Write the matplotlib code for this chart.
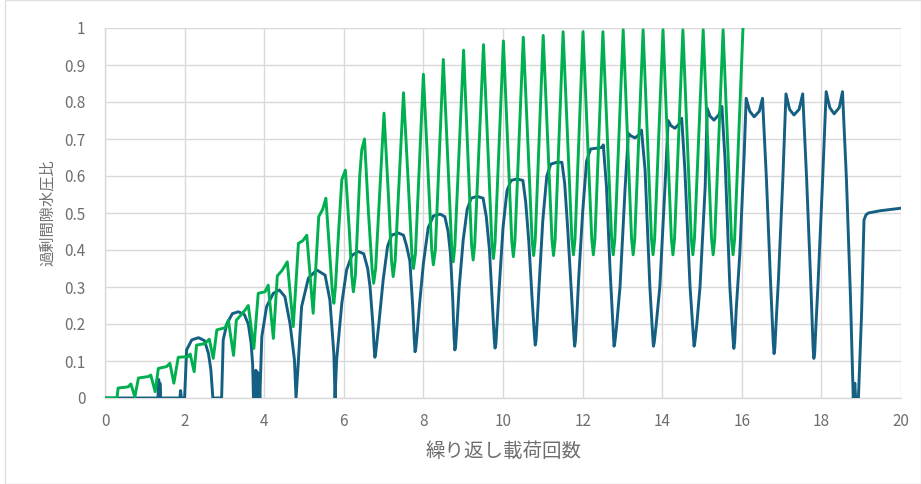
import matplotlib
matplotlib.use("Agg")
import matplotlib.pyplot as plt
from matplotlib.patches import Rectangle

# ---- data ----
blue_x = [0, 1.33, 1.35, 1.37, 1.38, 1.40, 1.88, 1.90, 1.92, 2.0, 2.05, 2.18, 2.35, 2.5, 2.6, 2.66, 2.71,
          2.93, 2.97, 3.06, 3.2, 3.35, 3.5, 3.6, 3.67, 3.71, 3.73, 3.75, 3.77, 3.79, 3.81, 3.83, 3.85, 3.87, 3.89,
          3.94, 4.06, 4.23, 4.38, 4.52, 4.65, 4.76, 4.8,
          4.86, 4.94, 5.11, 5.32, 5.53, 5.65, 5.75, 5.78,
          5.82, 5.95, 6.07, 6.2, 6.36, 6.5, 6.6, 6.66, 6.73, 6.76, 6.78, 6.80,
          6.83, 6.88, 6.99, 7.1, 7.2, 7.37, 7.5, 7.58, 7.66, 7.73, 7.77, 7.79, 7.81,
          7.84, 7.9, 8.0, 8.12, 8.25, 8.42, 8.54, 8.62, 8.68, 8.74, 8.77, 8.79, 8.81,
          8.84, 8.9, 9.0, 9.1, 9.2, 9.35, 9.5, 9.58, 9.66, 9.73, 9.78, 9.8, 9.82,
          9.85, 9.9, 10.0, 10.1, 10.2, 10.35, 10.5, 10.57, 10.65, 10.73, 10.79, 10.81, 10.83,
          10.86, 10.91, 11.0, 11.1, 11.2, 11.35, 11.48, 11.55, 11.63, 11.72, 11.78, 11.8, 11.82,
          11.85, 11.9, 12.0, 12.1, 12.2, 12.35, 12.48, 12.52, 12.6, 12.69, 12.77, 12.79, 12.81,
          12.85, 12.94, 13.07, 13.15, 13.22, 13.32, 13.42, 13.48, 13.57, 13.69, 13.76, 13.78, 13.80,
          13.85, 13.94, 14.07, 14.15, 14.22, 14.32, 14.42, 14.49, 14.57, 14.7, 14.78, 14.8, 14.82,
          14.87, 14.95, 15.08, 15.13, 15.2, 15.3, 15.42, 15.5, 15.58, 15.7, 15.78, 15.8, 15.82,
          15.86, 15.95, 16.06, 16.11, 16.2, 16.31, 16.44, 16.52, 16.62, 16.72, 16.79, 16.81, 16.83,
          16.86, 16.92, 17.03, 17.11, 17.2, 17.31, 17.44, 17.53, 17.63, 17.73, 17.79, 17.81, 17.83,
          17.86, 17.92, 18.03, 18.12, 18.21, 18.32, 18.45, 18.53, 18.63, 18.73, 18.8, 18.84, 18.86, 18.93,
          19.01, 19.07, 19.12, 19.18, 19.47, 20.0]
blue_y = [0, 0, 0.05, 0, 0.04, 0, 0, 0.02, 0, 0, 0.13, 0.157, 0.163, 0.155, 0.12, 0.076, 0,
          0, 0.157, 0.2, 0.228, 0.233, 0.226, 0.2, 0.15, 0.09, 0, 0.07, 0, 0.075, 0, 0.07, 0, 0.065, 0,
          0.166, 0.247, 0.283, 0.292, 0.274, 0.2, 0.103, 0,
          0.103, 0.247, 0.324, 0.346, 0.332, 0.265, 0.12, 0,
          0.103, 0.256, 0.346, 0.385, 0.396, 0.39, 0.35, 0.3, 0.2, 0.14, 0.11, 0.12,
          0.15, 0.2, 0.32, 0.41, 0.44, 0.446, 0.44, 0.41, 0.37, 0.25, 0.16, 0.125, 0.135,
          0.17, 0.25, 0.364, 0.46, 0.492, 0.497, 0.49, 0.45, 0.39, 0.26, 0.165, 0.13, 0.14,
          0.19, 0.3, 0.427, 0.51, 0.54, 0.545, 0.54, 0.49, 0.4, 0.26, 0.16, 0.135, 0.145,
          0.2, 0.29, 0.46, 0.56, 0.588, 0.592, 0.588, 0.53, 0.42, 0.27, 0.17, 0.143, 0.155,
          0.21, 0.31, 0.48, 0.6, 0.632, 0.637, 0.637, 0.58, 0.45, 0.28, 0.17, 0.14, 0.155,
          0.21, 0.32, 0.5, 0.64, 0.673, 0.675, 0.677, 0.684, 0.571, 0.346, 0.18, 0.14, 0.15,
          0.19, 0.3, 0.571, 0.715, 0.708, 0.703, 0.712, 0.724, 0.616, 0.3, 0.17, 0.14, 0.15,
          0.2, 0.3, 0.571, 0.75, 0.736, 0.729, 0.74, 0.756, 0.616, 0.3, 0.17, 0.14, 0.15,
          0.2, 0.3, 0.571, 0.783, 0.762, 0.751, 0.765, 0.788, 0.643, 0.3, 0.16, 0.134, 0.15,
          0.24, 0.39, 0.66, 0.81, 0.775, 0.76, 0.775, 0.81, 0.589, 0.319, 0.15, 0.12, 0.135,
          0.2, 0.319, 0.589, 0.822, 0.78, 0.765, 0.78, 0.822, 0.589, 0.319, 0.14, 0.107, 0.12,
          0.19, 0.319, 0.589, 0.828, 0.785, 0.768, 0.785, 0.828, 0.589, 0.274, 0, 0.04, 0, 0,
          0.229, 0.481, 0.495, 0.5, 0.506, 0.513]

green_x = [0, 0.3, 0.33, 0.58, 0.65, 0.75, 0.84, 1.09, 1.15, 1.26, 1.34, 1.55, 1.63, 1.73,
           1.84, 2.09, 2.14, 2.24, 2.3, 2.51, 2.62, 2.72, 2.81, 3.02, 3.1, 3.23, 3.3, 3.5, 3.6, 3.74,
           3.85, 4.02, 4.1, 4.23, 4.33, 4.45, 4.58, 4.73, 4.86, 4.97, 5.07, 5.23, 5.37, 5.47, 5.55,
           5.71, 5.75, 5.79, 5.87, 5.95, 6.04, 6.14, 6.2, 6.24, 6.29, 6.4, 6.45, 6.52, 6.62, 6.71, 6.75, 6.8,
           7.01, 7.12, 7.2, 7.24, 7.29, 7.5, 7.62, 7.71, 7.75, 7.8, 8.0, 8.12, 8.21, 8.25, 8.3,
           8.5, 8.71, 8.75, 8.79, 9.01, 9.21, 9.25, 9.29, 9.51, 9.72, 9.76, 9.8,
           10.01, 10.22, 10.26, 10.3, 10.51, 10.73, 10.77, 10.81, 11.01, 11.23, 11.27, 11.31,
           11.51, 11.73, 11.77, 11.81, 12.01, 12.23, 12.27, 12.31, 12.51, 12.73, 12.77, 12.81,
           13.02, 13.23, 13.27, 13.31, 13.52, 13.73, 13.77, 13.81, 14.02, 14.23, 14.27, 14.31,
           14.52, 14.73, 14.77, 14.81, 15.03, 15.24, 15.28, 15.32, 15.53, 15.74, 15.78, 15.82, 16.03]
green_y = [0, 0, 0.027, 0.03, 0.038, 0.003, 0.054, 0.058, 0.062, 0.017, 0.08, 0.085, 0.094, 0.04,
           0.11, 0.112, 0.119, 0.071, 0.143, 0.147, 0.159, 0.107, 0.184, 0.19, 0.21, 0.115, 0.21, 0.235, 0.25, 0.134,
           0.283, 0.287, 0.305, 0.161, 0.33, 0.345, 0.368, 0.193, 0.418, 0.425, 0.44, 0.229, 0.49, 0.51, 0.54,
           0.29, 0.256, 0.3, 0.45, 0.59, 0.616, 0.45, 0.33, 0.287, 0.33, 0.6, 0.67, 0.70, 0.5, 0.35, 0.31, 0.35,
           0.77, 0.55, 0.37, 0.328, 0.37, 0.825, 0.58, 0.39, 0.35, 0.39, 0.875, 0.6, 0.40, 0.36, 0.40,
           0.915, 0.41, 0.368, 0.41, 0.94, 0.415, 0.373, 0.415, 0.955, 0.42, 0.377, 0.42,
           0.965, 0.425, 0.382, 0.425, 0.975, 0.428, 0.385, 0.428, 0.98, 0.428, 0.385, 0.428,
           0.99, 0.43, 0.387, 0.43, 0.99, 0.43, 0.387, 0.43, 0.99, 0.43, 0.387, 0.43,
           0.995, 0.43, 0.387, 0.43, 0.995, 0.43, 0.387, 0.43, 0.995, 0.43, 0.387, 0.43,
           0.995, 0.43, 0.387, 0.43, 0.995, 0.43, 0.387, 0.43, 0.995, 0.43, 0.387, 0.43, 1.0]

x_ticks = [0, 2, 4, 6, 8, 10, 12, 14, 16, 18, 20]
y_ticks = [0, 0.1, 0.2, 0.3, 0.4, 0.5, 0.6, 0.7, 0.8, 0.9, 1]
y_tick_labels = ["0", "0.1", "0.2", "0.3", "0.4", "0.5", "0.6", "0.7", "0.8", "0.9", "1"]
x_label = "繰り返し載荷回数"
y_label = "過剰間隙水圧比"

BLUE = "#156082"
GREEN = "#00B050"
GRID = "#D9D9D9"
TXT = "#6E6E6E"

plt.rcParams['font.family'] = ['Noto Sans CJK JP', 'DejaVu Sans']

fig = plt.figure(figsize=(9.21, 4.84), dpi=100)
fig.patch.set_facecolor("white")
ax = fig.add_axes([105/921, 1-398/484, 796/921, 370/484])

ax.plot(blue_x, blue_y, color=BLUE, lw=2.1, solid_joinstyle='round', zorder=3)
ax.plot(green_x, green_y, color=GREEN, lw=2.1, solid_joinstyle='round', zorder=4)

ax.set_xlim(0, 20)
ax.set_ylim(0, 1)
ax.set_xticks(x_ticks)
ax.set_xticklabels([str(v) for v in x_ticks])
ax.set_yticks(y_ticks)
ax.set_yticklabels(y_tick_labels)
ax.grid(True, color=GRID, lw=1.0, zorder=0)
ax.set_axisbelow(True)
for s in ["top", "right"]:
    ax.spines[s].set_visible(False)
for s in ["left", "bottom"]:
    ax.spines[s].set_color(GRID)
    ax.spines[s].set_linewidth(1.0)
ax.tick_params(length=0, labelsize=11, labelcolor=TXT)
ax.tick_params(axis='y', pad=14)
ax.tick_params(axis='x', pad=11)
ax.set_xlabel(x_label, fontsize=14, color=TXT, labelpad=8)
ax.set_ylabel(y_label, fontsize=11, color=TXT, labelpad=6)

fig.patches.append(Rectangle((5/921, 0.0), 1 - 5/921, 1.0, transform=fig.transFigure,
                             fill=False, edgecolor="#E0E0E0", lw=1.0))

fig.savefig("out.png", dpi=100)
